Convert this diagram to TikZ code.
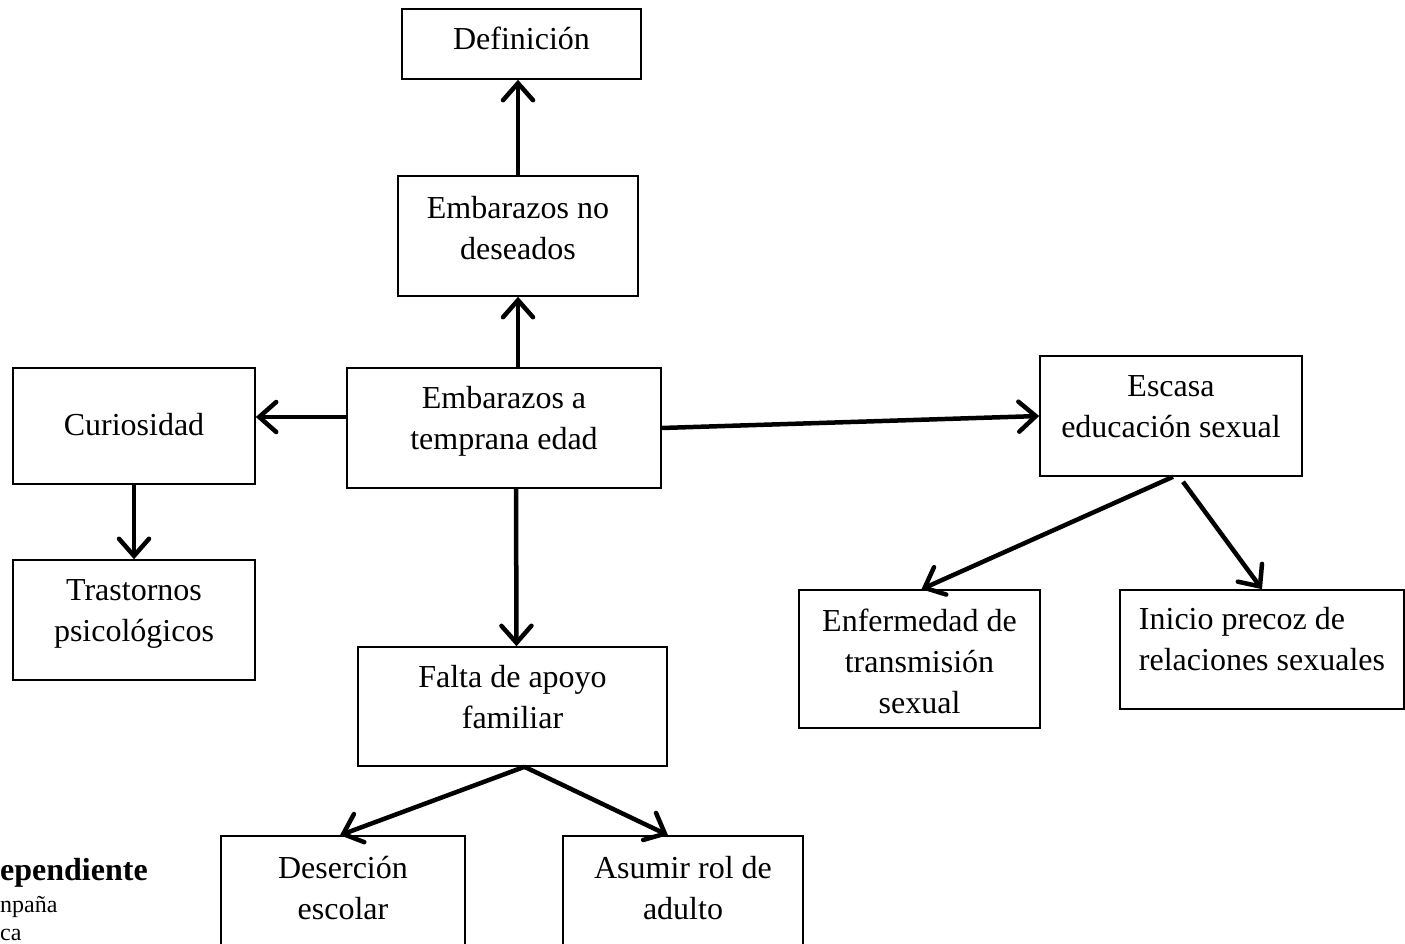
\documentclass[tikz,border=0pt]{standalone}
\usepackage{fontspec}
\setmainfont{Liberation Serif}
\usetikzlibrary{arrows.meta}

\begin{document}
\begin{tikzpicture}[x=1pt, y=-1pt,
    box/.style={draw, line width=1.6pt, inner sep=0pt},
    txt/.style={inner sep=0pt, align=center, font=\fontsize{32}{41}\selectfont},
    arr/.style={line width=4.5pt, -{Straight Barb[length=17pt, width=30pt, line cap=round]}}]
    \useasboundingbox (0, 0) rectangle (1405, 944);
    \clip (0, 0) rectangle (1405, 944);

    \node[box, minimum width=239pt, minimum height=70pt, label={[txt, yshift=6pt]center:{Definición}}] (def) at (521.5, 44) {};
    \node[box, minimum width=240pt, minimum height=120pt, label={[txt, yshift=8pt]center:{Embarazos no\\deseados}}] (nodes) at (518, 236) {};
    \node[box, minimum width=314pt, minimum height=120pt, label={[txt, yshift=7pt]center:{Embarazos a\\temprana edad}}] (temp) at (504, 428) {};
    \node[box, minimum width=242pt, minimum height=116pt, label={[txt, yshift=1pt]center:{Curiosidad}}] (cur) at (134, 426) {};
    \node[box, minimum width=242pt, minimum height=120pt, label={[txt, yshift=6pt]center:{Trastornos\\psicológicos}}] (tras) at (134, 620) {};
    \node[box, minimum width=262pt, minimum height=120pt, label={[txt, yshift=9pt]center:{Escasa\\educación sexual}}] (esc) at (1171, 416) {};
    \node[box, minimum width=309pt, minimum height=119pt, label={[txt, yshift=9pt]center:{Falta de apoyo\\familiar}}] (falta) at (512.5, 706.5) {};
    \node[box, minimum width=241pt, minimum height=138pt, label={[txt, yshift=-2pt]center:{Enfermedad de\\transmisión\\sexual}}] (enf) at (919.5, 659) {};
    \node[box, minimum width=284pt, minimum height=119pt, label={[txt, align=left, yshift=10pt]center:{Inicio precoz de\\relaciones sexuales}}] (ini) at (1262, 649.5) {};
    \node[box, minimum width=244pt, minimum height=116pt, label={[txt, yshift=6pt]center:{Deserción\\escolar}}] (des) at (343, 894) {};
    \node[box, minimum width=240pt, minimum height=116pt, label={[txt, yshift=6pt]center:{Asumir rol de\\adulto}}] (asu) at (683, 894) {};

    \node[anchor=base west, inner sep=0pt, font=\fontsize{32}{41}\selectfont\bfseries] (vd) at (0, 880) {ependiente};
    \node[anchor=base west, inner sep=0pt, font=\fontsize{24}{28}\selectfont] (camp) at (0, 912) {npaña};
    \node[anchor=base west, inner sep=0pt, font=\fontsize{24}{28}\selectfont] (ca) at (0, 940) {ca};

    \draw[arr] (nodes.north) -- (nodes |- def.south);
    \draw[arr] (nodes |- temp.north) -- (nodes.south);
    \draw[arr] ([yshift=11pt]temp.west) -- ([yshift=11pt]temp.west -| cur.east);
    \draw[arr] (temp.east) -- (esc.west);
    \draw[arr] ([xshift=12pt]temp.south) -- ([xshift=4pt]falta.north);
    \draw[arr] (cur.south) -- (tras.north);
    \draw[arr] ([xshift=2pt]esc.south) -- ([xshift=2pt]enf.north);
    \draw[arr] ([xshift=12pt, yshift=-5pt]esc.south) -- (ini.north);
    \draw[arr] ([xshift=12pt]falta.south) -- ([xshift=-3pt]des.north);
    \draw[arr] ([xshift=12pt]falta.south) -- ([xshift=-15pt]asu.north);
\end{tikzpicture}
\end{document}
